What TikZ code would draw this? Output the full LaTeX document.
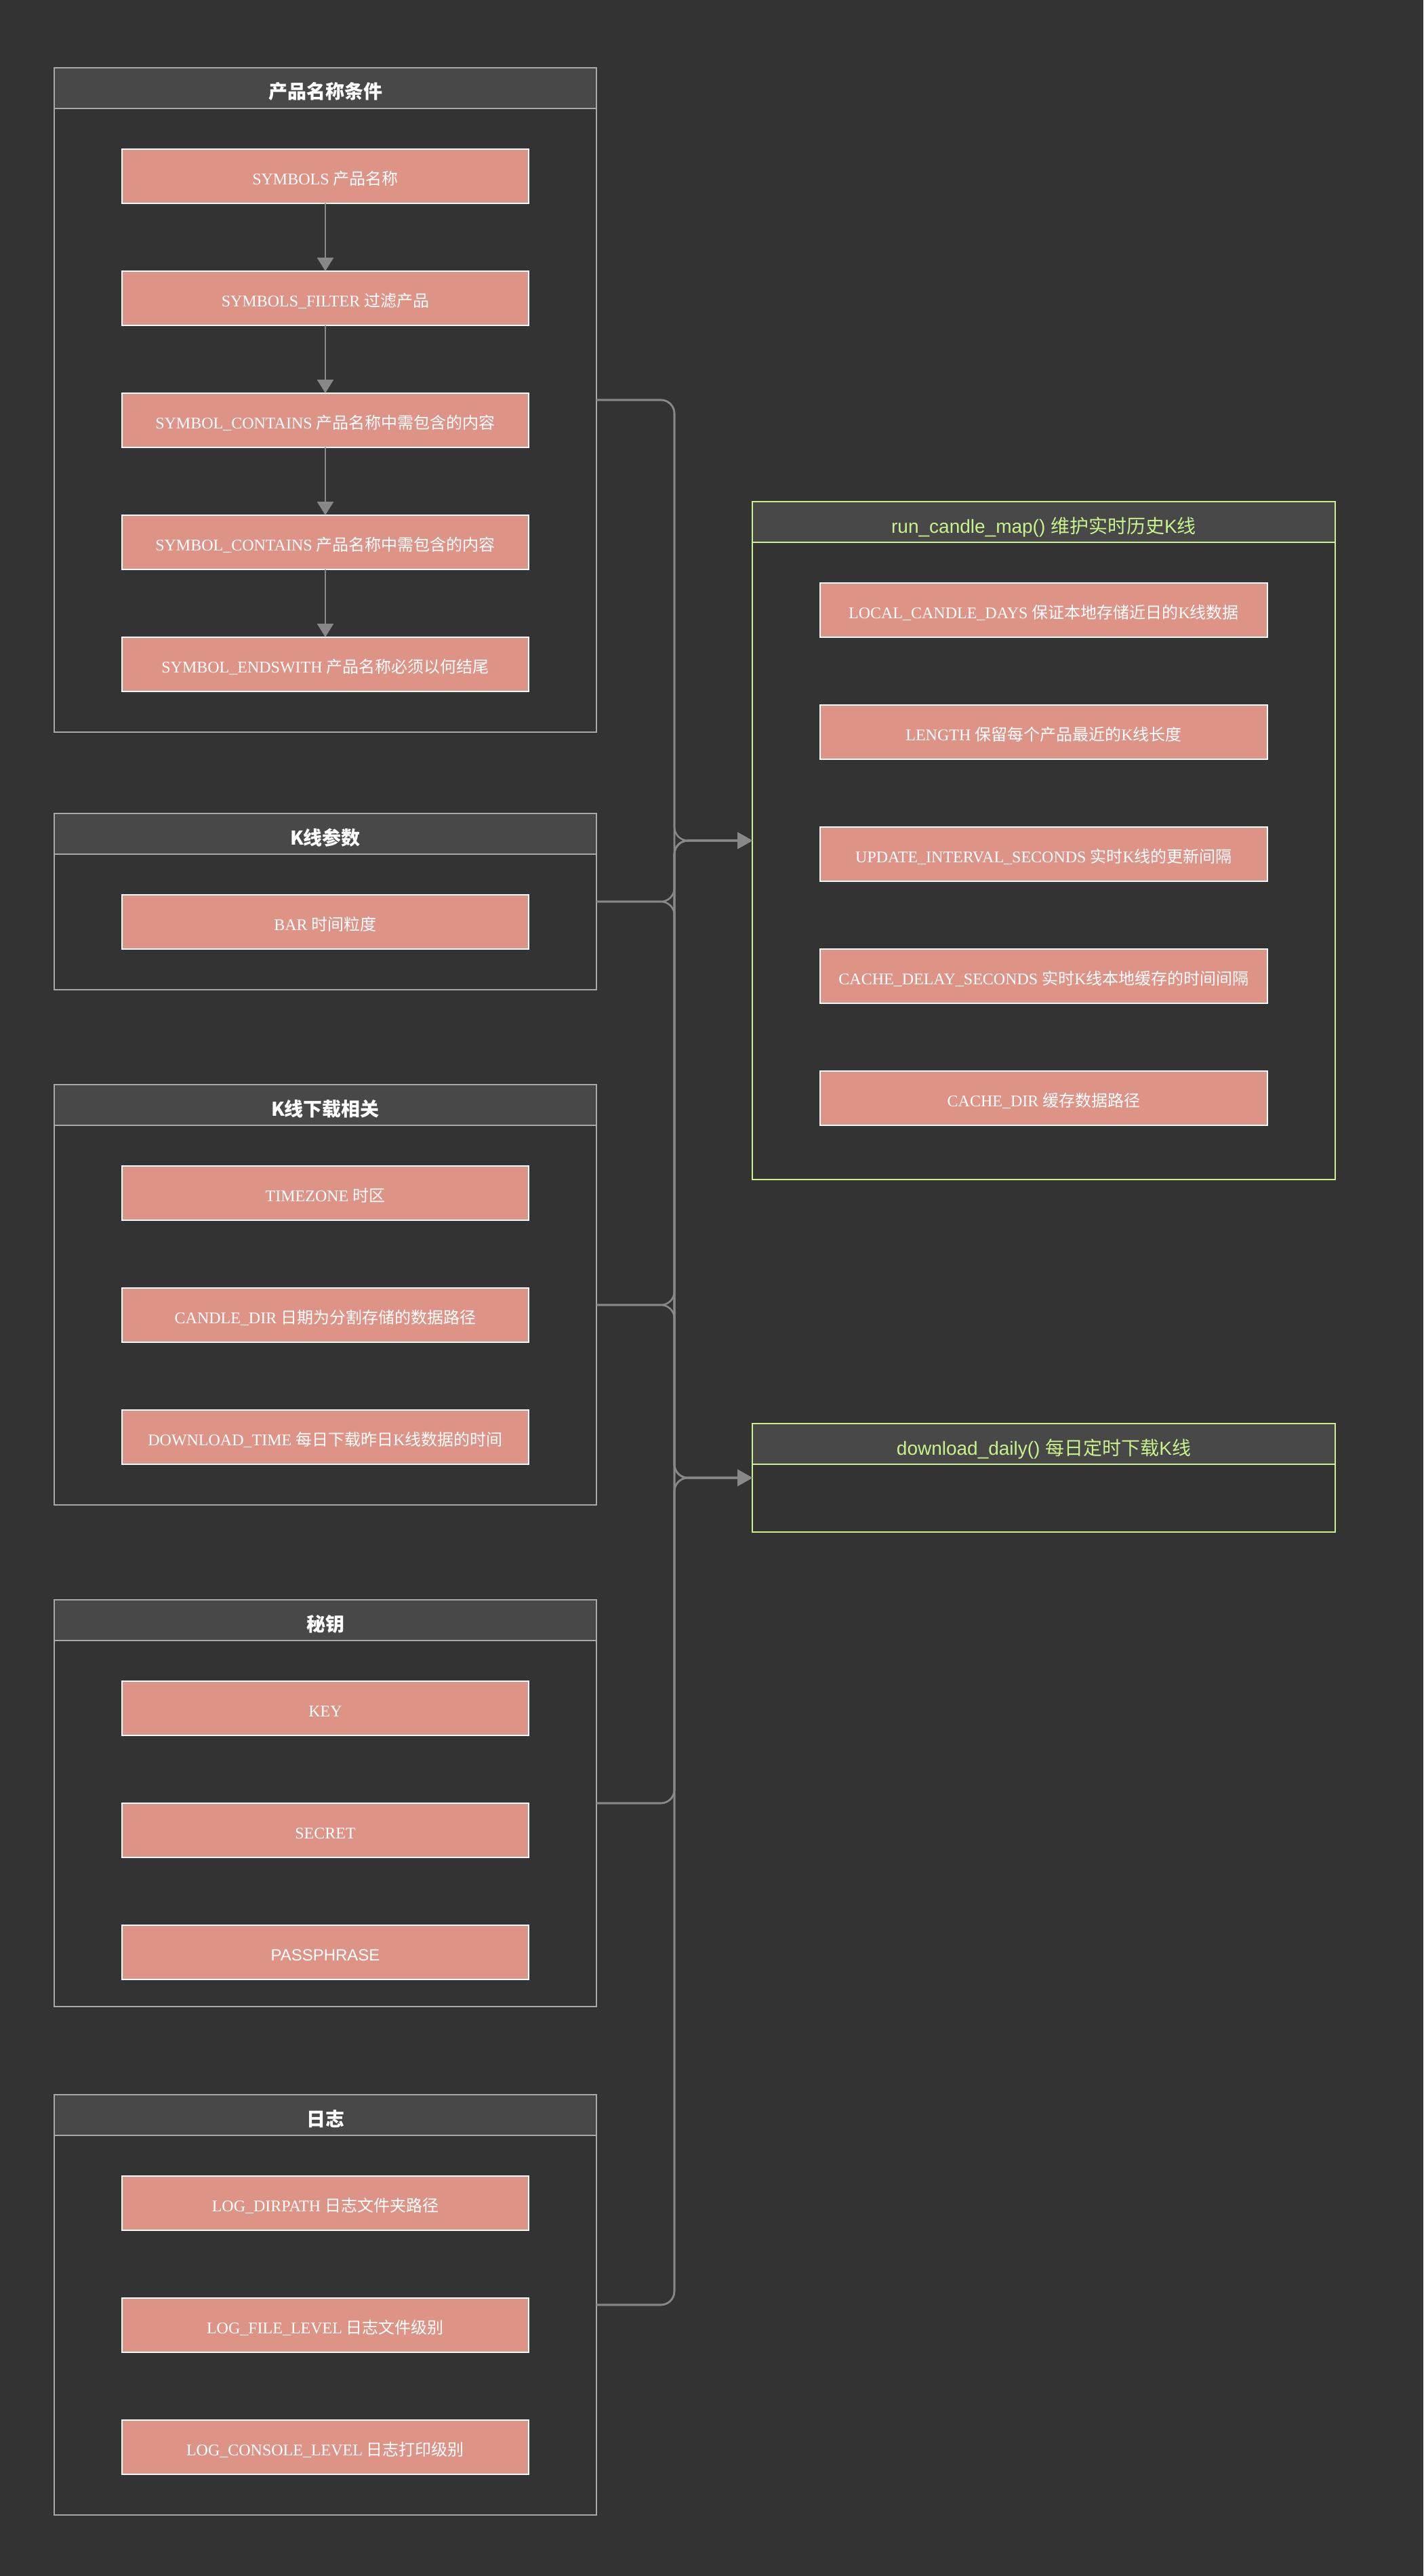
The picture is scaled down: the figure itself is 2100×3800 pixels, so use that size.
\documentclass[tikz,border=0pt]{standalone}
\usepackage{fontspec}
\setmainfont{Liberation Serif}
\newfontfamily\cjk{Noto Sans CJK SC}
\newfontfamily\hel{Liberation Sans}
\usetikzlibrary{arrows.meta}

\definecolor{bgc}{HTML}{333333}
\definecolor{hdrc}{HTML}{484848}
\definecolor{grpline}{HTML}{A8A8A8}
\definecolor{pinkc}{HTML}{DE9387}
\definecolor{greenc}{HTML}{C8F28C}
\definecolor{linkc}{HTML}{888888}

\newcommand\zh[1]{{\cjk #1}}

\begin{document}
\begin{tikzpicture}[x=0.5pt,y=-0.5pt,
  grp/.style={rectangle, draw=grpline, line width=1.2pt, fill=bgc,
    inner sep=0pt, outer sep=0pt, minimum width=400pt},
  hdr/.style={rectangle, draw=grpline, line width=1.2pt, fill=hdrc,
    inner sep=0pt, outer sep=0pt, minimum width=400pt, minimum height=30pt,
    text height=18pt, text depth=2pt,
    text=white, font=\fontsize{14pt}{16pt}\cjk\bfseries},
  rgrp/.style={rectangle, draw=greenc, line width=0.9pt, fill=bgc,
    inner sep=0pt, outer sep=0pt, minimum width=430pt},
  rhdr/.style={rectangle, draw=greenc, line width=0.9pt, fill=hdrc,
    inner sep=0pt, outer sep=0pt, minimum width=430pt, minimum height=30pt,
    text height=18.5pt, text depth=2pt,
    text=greenc, font=\fontsize{14pt}{16pt}\hel},
  item/.style={rectangle, draw=white, line width=0.8pt, fill=pinkc,
    inner sep=0pt, outer sep=0pt, minimum width=300pt, minimum height=40pt,
    text height=14pt, text depth=2pt,
    text=white, font=\fontsize{12pt}{14pt}\selectfont},
  ritem/.style={item, minimum width=330pt},
  flow/.style={draw=linkc, line width=1.3pt,
    -{Triangle[length=10pt,width=12pt]}},
  link/.style={draw=linkc, line width=1.3pt, rounded corners=10pt,
    -{Triangle[length=11pt,width=12pt]}}
]
% canvas
\path[fill=bgc] (0,0) rectangle (2100,3800);

% ---------- left column: configuration groups ----------
% 产品名称条件
\node[grp, minimum height=490pt] (g1) at (480,590) {};
\node[hdr] (g1h) at (480,130) {产品名称条件};
\node[item] (s1) at (480,260) {SYMBOLS \zh{产品名称}};
\node[item] (s2) at (480,440) {SYMBOLS\_FILTER \zh{过滤产品}};
\node[item] (s3) at (480,620) {SYMBOL\_CONTAINS \zh{产品名称中需包含的内容}};
\node[item] (s4) at (480,800) {SYMBOL\_CONTAINS \zh{产品名称中需包含的内容}};
\node[item] (s5) at (480,980) {SYMBOL\_ENDSWITH \zh{产品名称必须以何结尾}};
\draw[flow] (s1) -- (s2);
\draw[flow] (s2) -- (s3);
\draw[flow] (s3) -- (s4);
\draw[flow] (s4) -- (s5);

% K线参数
\node[grp, minimum height=130pt] (g2) at (480,1330) {};
\node[hdr] (g2h) at (480,1230) {K线参数};
\node[item] (b1) at (480,1360) {BAR \zh{时间粒度}};

% K线下载相关
\node[grp, minimum height=310pt] (g3) at (480,1910) {};
\node[hdr] (g3h) at (480,1630) {K线下载相关};
\node[item] (d1) at (480,1760) {TIMEZONE \zh{时区}};
\node[item] (d2) at (480,1940) {CANDLE\_DIR \zh{日期为分割存储的数据路径}};
\node[item] (d3) at (480,2120) {DOWNLOAD\_TIME \zh{每日下载昨日}K\zh{线数据的时间}};

% 秘钥
\node[grp, minimum height=300pt] (g4) at (480,2660) {};
\node[hdr] (g4h) at (480,2390) {秘钥};
\node[item] (k1) at (480,2520) {KEY};
\node[item] (k2) at (480,2700) {SECRET};
\node[item] (k3) at (480,2880) {\hel PASSPHRASE};

% 日志
\node[grp, minimum height=310pt] (g5) at (480,3400) {};
\node[hdr] (g5h) at (480,3120) {日志};
\node[item] (l1) at (480,3250) {LOG\_DIRPATH \zh{日志文件夹路径}};
\node[item] (l2) at (480,3430) {LOG\_FILE\_LEVEL \zh{日志文件级别}};
\node[item] (l3) at (480,3610) {LOG\_CONSOLE\_LEVEL \zh{日志打印级别}};

% ---------- right column: tasks ----------
\node[rgrp, minimum height=500pt] (r1) at (1540,1240) {};
\node[rhdr] (r1h) at (1540,770) {run\_candle\_map() \zh{维护实时历史}K\zh{线}};
\node[ritem] (c1) at (1540,900) {LOCAL\_CANDLE\_DAYS \zh{保证本地存储近日的}K\zh{线数据}};
\node[ritem] (c2) at (1540,1080) {LENGTH \zh{保留每个产品最近的}K\zh{线长度}};
\node[ritem] (c3) at (1540,1260) {UPDATE\_INTERVAL\_SECONDS \zh{实时}K\zh{线的更新间隔}};
\node[ritem] (c4) at (1540,1440) {CACHE\_DELAY\_SECONDS \zh{实时}K\zh{线本地缓存的时间间隔}};
\node[ritem] (c5) at (1540,1620) {CACHE\_DIR \zh{缓存数据路径}};

\node[rgrp, minimum height=80pt] (r2) at (1540,2180) {};
\node[rhdr] (r2h) at (1540,2130) {download\_daily() \zh{每日定时下载}K\zh{线}};

% ---------- connectors: every group feeds both tasks ----------
\coordinate (bus) at (995,0);
\coordinate (g3o) at ([yshift=-7.5pt]g3.east);
\foreach \g in {g1,g2,g3o,g4,g5}{
  \foreach \t in {r1,r2}{
    \draw[link] (\g.east) -- (\g.east -| bus) -- (bus |- \t.west) -- (\t.west);
  }
}
\end{tikzpicture}
\end{document}
